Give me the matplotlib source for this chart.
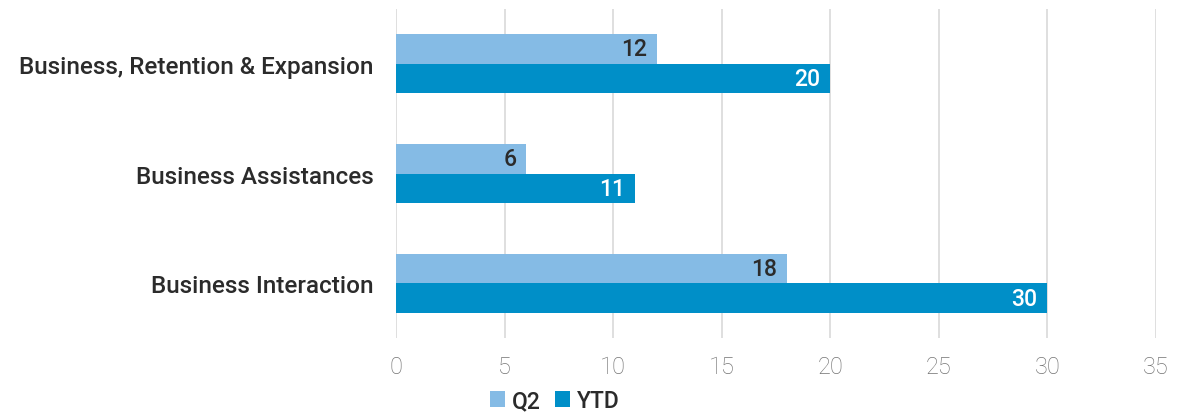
import matplotlib.pyplot as plt
import numpy as np

categories = ["Business Interaction", "Business Assistances", "Business, Retention & Expansion"]
q2 = [18, 6, 12]
ytd = [30, 11, 20]
series_names = ["Q2", "YTD"]
x_ticks = [0, 5, 10, 15, 20, 25, 30, 35]

c_q2 = "#85bbe5"
c_ytd = "#008fc8"

plt.rcParams['font.family'] = ['Roboto', 'DejaVu Sans']

fig = plt.figure(figsize=(11.77, 4.14), dpi=100)
ax = fig.add_axes([0.3364, 0.181, 0.6458, 0.795])

y = np.arange(len(categories))
h = 0.27
b1 = ax.barh(y + h / 2, q2, height=h, color=c_q2, label=series_names[0], zorder=3)
b2 = ax.barh(y - h / 2, ytd, height=h, color=c_ytd, label=series_names[1], zorder=3)

# value labels inside the bar ends
for rect, v in zip(b1, q2):
    ax.text(v - 0.45, rect.get_y() + rect.get_height() / 2, str(v), ha='right', va='center',
            fontsize=16.5, fontweight='medium', color='#2b2b2b', zorder=4)
for rect, v in zip(b2, ytd):
    ax.text(v - 0.45, rect.get_y() + rect.get_height() / 2, str(v), ha='right', va='center',
            fontsize=16.5, fontweight='medium', color='white', zorder=4)

ax.set_xlim(0, 35)
ax.set_ylim(-0.5, 2.5)
ax.set_xticks(x_ticks)
ax.set_yticks(y)
ax.set_yticklabels(categories, fontsize=17.5, fontweight='medium', color='#2b2b2b')
ax.tick_params(axis='x', labelsize=17, colors='#747474', length=0, pad=12)
ax.tick_params(axis='y', length=0, pad=16)
for lab in ax.get_xticklabels():
    lab.set_fontweight('light')
ax.xaxis.grid(True, color='#d9d9d9', linewidth=1.2, zorder=0)
for s in ax.spines.values():
    s.set_visible(False)

leg = fig.legend(handles=[b1, b2], labels=series_names, loc='center',
                 bbox_to_anchor=(0.4715, 0.03), ncol=2, frameon=False,
                 fontsize=16.5, handlelength=0.65, handleheight=0.65, handletextpad=0.3,
                 columnspacing=0.6, borderpad=0)
for t in leg.get_texts():
    t.set_fontweight('medium')
    t.set_color('#2b2b2b')

fig.savefig("out.png", dpi=100)
